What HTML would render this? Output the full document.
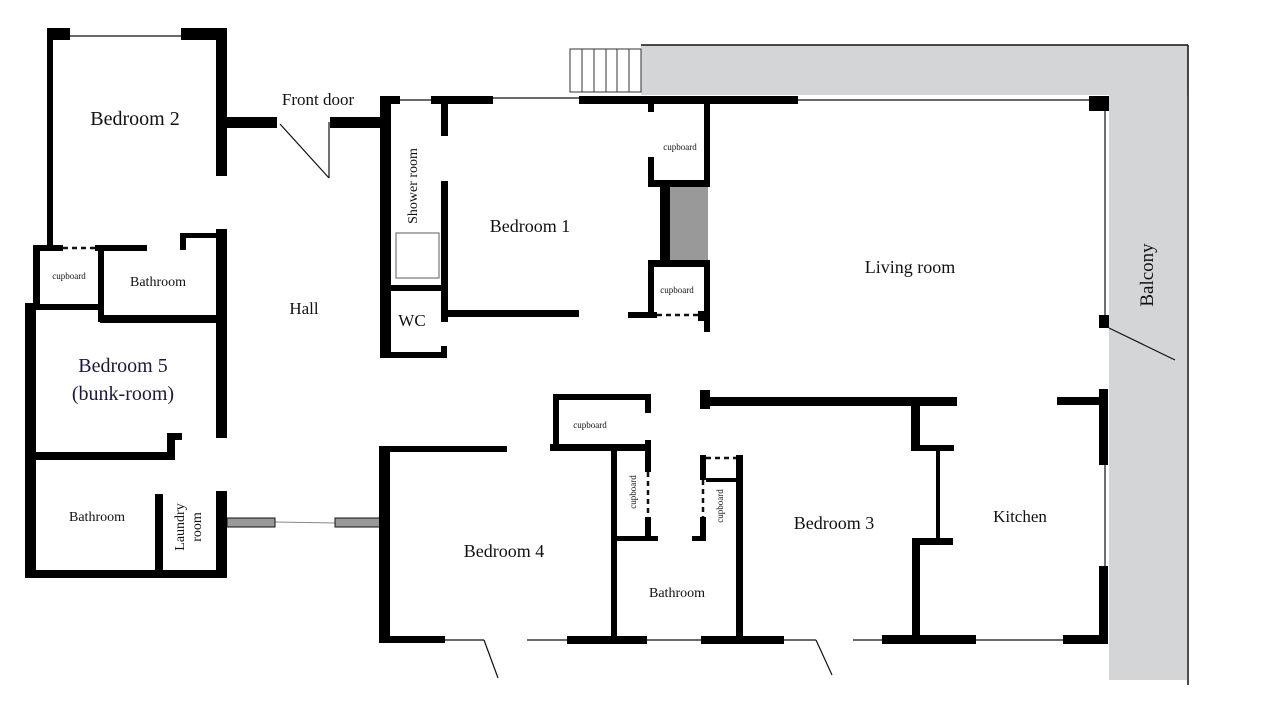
<!DOCTYPE html>
<html><head><meta charset="utf-8"><style>
html,body{margin:0;padding:0;background:#fff;}
svg{display:block;}
text{font-family:"Liberation Serif",serif;fill:#111;}
</style></head><body>
<svg width="1280" height="720" viewBox="0 0 1280 720" xmlns="http://www.w3.org/2000/svg">
<!-- balcony -->
<rect x="641" y="45" width="547" height="50" fill="#d4d5d7"/>
<rect x="1109" y="95" width="78" height="585" fill="#d4d5d7"/>
<line x1="641" y1="45" x2="1188" y2="45" stroke="#111" stroke-width="1.5"/>
<line x1="1188" y1="45" x2="1188" y2="685" stroke="#111" stroke-width="1.5"/>
<!-- stairs -->
<g stroke="#333" stroke-width="1" fill="#fff">
<rect x="570" y="49" width="71" height="43"/>
<line x1="582" y1="49" x2="582" y2="92"/><line x1="594" y1="49" x2="594" y2="92"/>
<line x1="606" y1="49" x2="606" y2="92"/><line x1="617" y1="49" x2="617" y2="92"/>
<line x1="629" y1="49" x2="629" y2="92"/>
</g>
<!-- thin lines (windows, doors) -->
<g stroke="#111" stroke-width="1.2" fill="none">
<line x1="70" y1="36" x2="181" y2="36"/>
<line x1="280" y1="124" x2="329" y2="178"/>
<line x1="329" y1="122" x2="329" y2="178"/>
<line x1="400" y1="100" x2="431" y2="100"/>
<line x1="493" y1="98" x2="579" y2="98"/>
<line x1="798" y1="100" x2="1090" y2="100"/>
<line x1="1105" y1="111" x2="1105" y2="316"/>
<line x1="1109" y1="328" x2="1175" y2="360"/>
<line x1="1105" y1="465" x2="1105" y2="567"/>
<line x1="445" y1="640" x2="484" y2="640"/>
<line x1="484" y1="640" x2="498" y2="678"/>
<line x1="527" y1="640" x2="567" y2="640"/>
<line x1="647" y1="640" x2="701" y2="640"/>
<line x1="784" y1="640" x2="816" y2="640"/>
<line x1="816" y1="640" x2="832" y2="675"/>
<line x1="853" y1="640" x2="882" y2="640"/>
<line x1="976" y1="640" x2="1063" y2="640"/>
</g>
<line x1="275" y1="522" x2="335" y2="523" stroke="#888" stroke-width="1"/>
<!-- dashed -->
<g stroke="#111" stroke-width="2.5" stroke-dasharray="5,4" fill="none">
<line x1="63" y1="248" x2="95" y2="248"/>
<line x1="657" y1="315" x2="700" y2="315"/>
<line x1="648" y1="472" x2="648" y2="517"/>
<line x1="703" y1="480" x2="703" y2="517"/>
<line x1="706" y1="458" x2="736" y2="458"/>
</g>
<!-- gray elements -->
<rect x="670" y="187" width="38" height="75" fill="#999"/>
<rect x="227" y="518" width="48" height="9" fill="#999" stroke="#111" stroke-width="1"/>
<rect x="335" y="518" width="45" height="9" fill="#999" stroke="#111" stroke-width="1"/>
<rect x="396" y="233" width="43" height="45" fill="#fff" stroke="#777" stroke-width="1.2"/>
<!-- walls -->
<g fill="#000">
<!-- bedroom 2 -->
<rect x="47" y="28" width="23" height="12"/>
<rect x="47" y="28" width="6" height="222"/>
<rect x="181" y="28" width="46" height="12"/>
<rect x="216" y="28" width="11" height="148"/>
<rect x="227" y="117" width="50" height="11"/>
<rect x="330" y="117" width="50" height="11"/>
<!-- cupboard / bathroom / bed5 -->
<rect x="33" y="245" width="30" height="6"/>
<rect x="95" y="245" width="52" height="6"/>
<rect x="33" y="245" width="7" height="60"/>
<rect x="33" y="304" width="67" height="6"/>
<rect x="98" y="245" width="6" height="77"/>
<rect x="100" y="315" width="127" height="8"/>
<rect x="180" y="233" width="6" height="17"/>
<rect x="180" y="233" width="40" height="5"/>
<rect x="216" y="229" width="11" height="209"/>
<rect x="25" y="303" width="11" height="275"/>
<rect x="36" y="452" width="139" height="8"/>
<rect x="167" y="433" width="8" height="27"/>
<rect x="167" y="433" width="15" height="7"/>
<rect x="155" y="494" width="8" height="76"/>
<rect x="25" y="570" width="202" height="8"/>
<rect x="216" y="491" width="11" height="87"/>
<!-- shower / WC / bedroom 1 -->
<rect x="380" y="96" width="11" height="262"/>
<rect x="380" y="96" width="20" height="8"/>
<rect x="431" y="96" width="62" height="8"/>
<rect x="441" y="96" width="7" height="40"/>
<rect x="441" y="181" width="7" height="141"/>
<rect x="391" y="285" width="50" height="6"/>
<rect x="391" y="352" width="56" height="6"/>
<rect x="441" y="346" width="6" height="12"/>
<rect x="448" y="310" width="131" height="7"/>
<rect x="579" y="96" width="219" height="8"/>
<rect x="648" y="104" width="6" height="8"/>
<rect x="704" y="104" width="6" height="83"/>
<rect x="648" y="157" width="6" height="30"/>
<rect x="648" y="180" width="62" height="7"/>
<rect x="660" y="187" width="10" height="75"/>
<rect x="648" y="260" width="62" height="7"/>
<rect x="648" y="262" width="6" height="54"/>
<rect x="704" y="262" width="6" height="70"/>
<rect x="628" y="312" width="29" height="6"/>
<rect x="698" y="311" width="6" height="10"/>
<rect x="1089" y="96" width="20" height="15"/>
<rect x="1099" y="315" width="10" height="13"/>
<!-- bedroom 4 -->
<rect x="379" y="446" width="11" height="197"/>
<rect x="379" y="446" width="128" height="6"/>
<rect x="379" y="636" width="66" height="7"/>
<rect x="567" y="636" width="80" height="8"/>
<rect x="701" y="636" width="83" height="8"/>
<!-- cupboards / bathroom -->
<rect x="553" y="394" width="6" height="57"/>
<rect x="553" y="394" width="97" height="6"/>
<rect x="645" y="394" width="6" height="19"/>
<rect x="550" y="444" width="100" height="7"/>
<rect x="645" y="440" width="6" height="32"/>
<rect x="645" y="517" width="6" height="24"/>
<rect x="611" y="444" width="6" height="192"/>
<rect x="617" y="536" width="41" height="5"/>
<rect x="700" y="455" width="6" height="25"/>
<rect x="700" y="517" width="6" height="24"/>
<rect x="692" y="536" width="14" height="5"/>
<rect x="706" y="478" width="32" height="4"/>
<rect x="736" y="455" width="7" height="181"/>
<!-- bedroom 3 / kitchen -->
<rect x="700" y="390" width="10" height="19"/>
<rect x="700" y="397" width="257" height="9"/>
<rect x="911" y="406" width="9" height="44"/>
<rect x="911" y="445" width="43" height="6"/>
<rect x="936" y="450" width="4" height="90"/>
<rect x="912" y="538" width="41" height="7"/>
<rect x="912" y="538" width="8" height="100"/>
<rect x="882" y="635" width="94" height="9"/>
<rect x="1057" y="397" width="51" height="8"/>
<rect x="1099" y="389" width="9" height="76"/>
<rect x="1099" y="566" width="9" height="78"/>
<rect x="1063" y="635" width="45" height="9"/>
</g>
<!-- labels -->
<text x="135" y="125" font-size="20" text-anchor="middle">Bedroom 2</text>
<text x="318" y="105" font-size="17" text-anchor="middle">Front door</text>
<text x="0" y="0" font-size="14" text-anchor="middle" transform="translate(417,186) rotate(-90)">Shower room</text>
<text x="530" y="232" font-size="18" text-anchor="middle">Bedroom 1</text>
<text x="680" y="150" font-size="9" text-anchor="middle">cupboard</text>
<text x="677" y="293" font-size="9" text-anchor="middle">cupboard</text>
<text x="910" y="273" font-size="18" text-anchor="middle">Living room</text>
<text x="0" y="0" font-size="19" text-anchor="middle" transform="translate(1153,275) rotate(-90)">Balcony</text>
<text x="304" y="314" font-size="17" text-anchor="middle">Hall</text>
<text x="412" y="326" font-size="17" text-anchor="middle">WC</text>
<text x="158" y="286" font-size="14" text-anchor="middle">Bathroom</text>
<text x="69" y="279" font-size="9" text-anchor="middle">cupboard</text>
<text x="123" y="372" font-size="20" text-anchor="middle" style="fill:#1a1a3a">Bedroom 5</text>
<text x="123" y="400" font-size="20" text-anchor="middle" style="fill:#1a1a3a">(bunk-room)</text>
<text x="97" y="521" font-size="14" text-anchor="middle">Bathroom</text>
<text x="0" y="0" font-size="14" text-anchor="middle" transform="translate(184,527) rotate(-90)">Laundry</text>
<text x="0" y="0" font-size="14" text-anchor="middle" transform="translate(201,527) rotate(-90)">room</text>
<text x="590" y="428" font-size="9" text-anchor="middle">cupboard</text>
<text x="0" y="0" font-size="9" text-anchor="middle" transform="translate(636,492) rotate(-90)">cupboard</text>
<text x="0" y="0" font-size="9" text-anchor="middle" transform="translate(723,506) rotate(-90)">cupboard</text>
<text x="504" y="557" font-size="18" text-anchor="middle">Bedroom 4</text>
<text x="834" y="529" font-size="18" text-anchor="middle">Bedroom 3</text>
<text x="1020" y="522" font-size="17" text-anchor="middle">Kitchen</text>
<text x="677" y="597" font-size="14" text-anchor="middle">Bathroom</text>
</svg>
</body></html>
